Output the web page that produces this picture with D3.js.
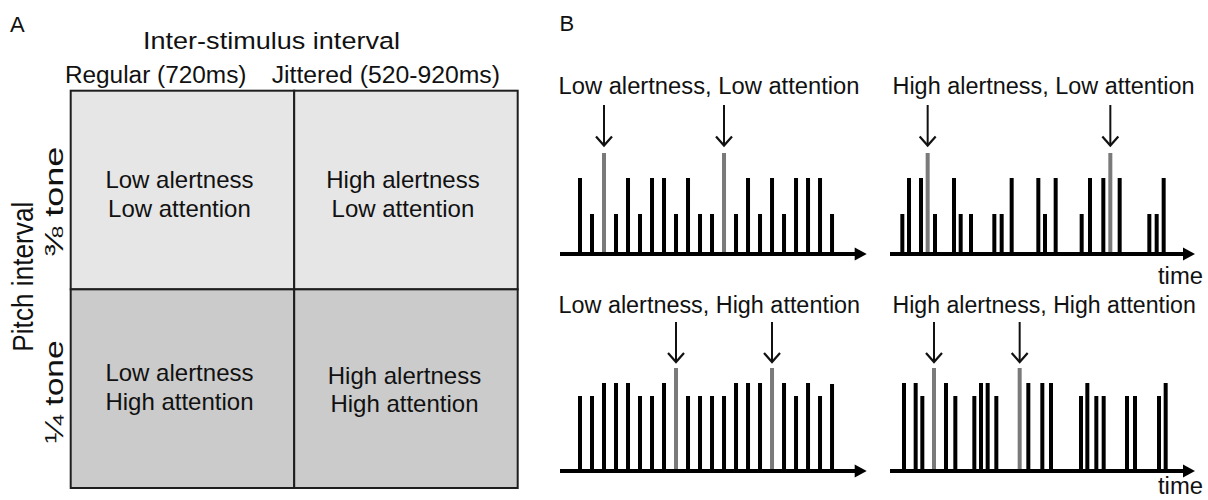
<!DOCTYPE html>
<html>
<head>
<meta charset="utf-8">
<script src="https://cdn.jsdelivr.net/npm/d3@7/dist/d3.min.js"></script>
<style>
  html, body { margin: 0; padding: 0; background: #fff; }
  svg { display: block; }
  text { font-family: "Liberation Sans", Arial, Helvetica, sans-serif; fill: #111; }
</style>
</head>
<body>
<svg id="chart" width="1208" height="500"></svg>
<script>
// ---------------- DATA ----------------
// Panel A: 2x2 design
const columns = ["Regular (720ms)", "Jittered (520-920ms)"];
const rows = ["⅜ tone", "¼ tone"];
const cellLabels = [
  ["Low alertness", "Low attention"],
  ["High alertness", "Low attention"],
  ["Low alertness", "High attention"],
  ["High alertness", "High attention"]
];
const panelTitles = [
  "Low alertness, Low attention",
  "High alertness, Low attention",
  "Low alertness, High attention",
  "High alertness, High attention"
];

// Panel B: tone onsets (ms) and relative pitch (target = highest)
const onsetsLowLow = [1200,1920,2640,3360,4080,4800,5520,6240,6960,7680,8400,9120,9840,10560,11280,12000,12720,13440,14160,14880,15600,16320];
const pitchLowLow  = [76,40,101,40,76,40,76,76,40,76,40,40,101,40,76,40,76,40,76,76,76,40];

const onsetsHighLow = [740,1140,1860,2260,2700,3840,4240,4860,6260,6700,7300,8900,9300,9940,11500,12000,12800,13220,13780,15560,16000,16420];
const pitchHighLow  = [40,76,76,101,40,76,40,40,40,40,76,76,40,76,40,76,76,101,76,40,40,76];

const onsetsLowHigh = [1200,1920,2640,3360,4080,4800,5520,6240,6960,7680,8400,9120,9840,10560,11280,12000,12720,13440,14160,14880,15600,16320];
const pitchLowHigh  = [75,75,88,88,88,75,75,88,103,75,75,75,75,88,88,88,103,88,75,88,75,87];

const onsetsHighHigh = [840,1540,1940,2640,3360,3920,5060,5460,5860,6380,7780,8300,9140,9660,11460,11840,12380,12820,14220,14700,16140,16540];
const pitchHighHigh  = [88,88,75,103,88,75,75,88,88,75,103,88,88,88,75,88,75,75,75,75,75,88];

const timeLabel = "time";

// ---------------- DRAW ----------------
const svg = d3.select("#chart");
svg.append("rect").attr("width", 1208).attr("height", 500).attr("fill", "#fff");

// ===== Panel A =====
const gA = svg.append("g");
gA.append("text").attr("x", 10).attr("y", 31.5).attr("font-size", 22).text("A");

const xA = d3.scaleBand().domain(columns).range([70.7, 517.7]);
const yA = d3.scaleBand().domain(rows).range([90.7, 488]);
const cellFill = { "⅜ tone": "#e6e6e6", "¼ tone": "#cbcbcb" };

const cells = [];
rows.forEach((r, ri) => columns.forEach((c, ci) => cells.push({ r, c, lines: cellLabels[ri * 2 + ci], ri, ci })));

gA.selectAll("rect.cell").data(cells).join("rect")
  .attr("class", "cell")
  .attr("x", d => xA(d.c)).attr("y", d => yA(d.r))
  .attr("width", xA.bandwidth()).attr("height", yA.bandwidth())
  .attr("fill", d => cellFill[d.r]).attr("stroke", "#1e1e1e").attr("stroke-width", 2);

const lineDy = [[-2, 26.5], [-7.5, 21]];
const cellFont = 24;
cells.forEach(d => {
  const cx = xA(d.c) + xA.bandwidth() / 2 - 3 + (d.ri === 1 && d.ci === 1 ? 1.5 : 0);
  const cy = yA(d.r) + yA.bandwidth() / 2;
  const extra = (d.ri === 1 && d.ci === 1) ? 2.5 : 0;
  d.lines.forEach((t, li) => {
    gA.append("text")
      .attr("x", cx).attr("y", cy + lineDy[d.ri][li] + extra)
      .attr("text-anchor", "middle").attr("font-size", cellFont)
      .text(t);
  });
});

// Column headers and title
gA.append("text").attr("x", 143).attr("y", 49).attr("font-size", 24.5)
  .attr("textLength", 257).attr("lengthAdjust", "spacingAndGlyphs")
  .text("Inter-stimulus interval");
const colHeadOffset = [-5.8, -22.5];
const colHeadLen = [181.6, 228.3];
columns.forEach((c, i) => {
  gA.append("text").attr("x", xA(c) + colHeadOffset[i]).attr("y", 83.3).attr("font-size", 23)
    .attr("textLength", colHeadLen[i]).attr("lengthAdjust", "spacingAndGlyphs")
    .text(c);
});

// Row labels
gA.append("text").attr("transform", "translate(33,276.7) rotate(-90)")
  .attr("text-anchor", "middle").attr("font-size", 30)
  .attr("textLength", 150).attr("lengthAdjust", "spacingAndGlyphs")
  .text("Pitch interval");
const rowLabOffset = [11.7, 3];
const rowLabLen = [110, 103];
rows.forEach((r, i) => {
  const cy = yA(r) + yA.bandwidth() / 2 + rowLabOffset[i];
  gA.append("text").attr("transform", `translate(63,${cy}) rotate(-90)`)
    .attr("text-anchor", "middle").attr("font-size", 25)
    .attr("textLength", rowLabLen[i]).attr("lengthAdjust", "spacingAndGlyphs")
    .text(r);
});

// ===== Panel B =====
const gB = svg.append("g");
gB.append("text").attr("x", 559.5).attr("y", 31).attr("font-size", 22).text("B");

const panels = [
  { title: panelTitles[0], onsets: onsetsLowLow,   pitch: pitchLowLow,   col: 0, row: 0 },
  { title: panelTitles[1], onsets: onsetsHighLow,  pitch: pitchHighLow,  col: 1, row: 0 },
  { title: panelTitles[2], onsets: onsetsLowHigh,  pitch: pitchLowHigh,  col: 0, row: 1 },
  { title: panelTitles[3], onsets: onsetsHighHigh, pitch: pitchHighHigh, col: 1, row: 1 }
];

// layout
const axisX0 = [560, 890], axisX1 = [866.7, 1195];
const axisDomainMax = [18400, 18300];
const baseY = [254, 471];
const titleX = [558.5, 892.5], titleY = [94, 313];
const titleLen = [[301, 302], [301.6, 303.3]];
const arrowTop = [105, 322], arrowTip = [145.5, 362];
const timeDy = [29.5, 23];

panels.forEach(p => {
  const g = gB.append("g");
  const x = d3.scaleLinear().domain([0, axisDomainMax[p.col]]).range([axisX0[p.col], axisX1[p.col]]);
  const y = d3.scaleLinear().domain([0, 110]).range([baseY[p.row], baseY[p.row] - 110]);
  const maxP = d3.max(p.pitch);
  const data = p.onsets.map((t, i) => ({ t, v: p.pitch[i], target: p.pitch[i] === maxP }));

  // title
  g.append("text").attr("x", titleX[p.col]).attr("y", titleY[p.row]).attr("font-size", 23.5)
    .attr("textLength", titleLen[p.row][p.col]).attr("lengthAdjust", "spacingAndGlyphs")
    .text(p.title);

  // bars
  g.selectAll("rect.tone").data(data).join("rect")
    .attr("class", "tone")
    .attr("x", d => x(d.t) - 2).attr("width", 4)
    .attr("y", d => y(d.v)).attr("height", d => y(0) - y(d.v))
    .attr("fill", d => d.target ? "#7a7a7a" : "#000");

  // time axis with arrow
  const y0 = y(0);
  const xEnd = x(axisDomainMax[p.col]);
  g.append("line").attr("x1", x(0)).attr("x2", xEnd - 8).attr("y1", y0).attr("y2", y0)
    .attr("stroke", "#000").attr("stroke-width", 4);
  g.append("path").attr("d", `M${xEnd},${y0} L${xEnd - 12},${y0 - 6.5} L${xEnd - 12},${y0 + 6.5} Z`).attr("fill", "#000");

  // target arrows
  data.filter(d => d.target).forEach(d => {
    const ax = x(d.t);
    const top = arrowTop[p.row], tip = arrowTip[p.row];
    g.append("line").attr("x1", ax).attr("x2", ax).attr("y1", top).attr("y2", tip - 1)
      .attr("stroke", "#111").attr("stroke-width", 2);
    g.append("path").attr("d", `M${ax - 8},${tip - 9} L${ax},${tip} L${ax + 8},${tip - 9}`)
      .attr("fill", "none").attr("stroke", "#111").attr("stroke-width", 2.2);
  });

  // time label
  if (p.col === 1) {
    g.append("text").attr("x", 1203).attr("y", y0 + timeDy[p.row]).attr("text-anchor", "end")
      .attr("font-size", 23).attr("textLength", 45).attr("lengthAdjust", "spacingAndGlyphs")
      .text(timeLabel);
  }
});
</script>
</body>
</html>
